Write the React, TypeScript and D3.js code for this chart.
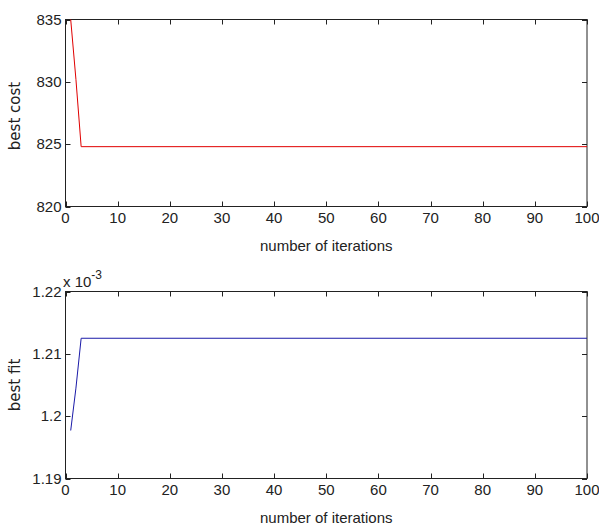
import React, { useEffect, useRef } from 'react';
import * as d3 from 'd3';

// iteration numbers where the curves change (flat after iteration 3)
const iterations = [1, 2, 3, 100];
const bestCost = [835, 830.2, 824.8, 824.8];
const bestFit = [1.1977e-3, 1.2045e-3, 1.2125e-3, 1.2125e-3];

const xTicks = [0, 10, 20, 30, 40, 50, 60, 70, 80, 90, 100];
const costTicks = [820, 825, 830, 835];
const fitTicks = [1.19e-3, 1.2e-3, 1.21e-3, 1.22e-3];
const fitTickLabels = ['1.19', '1.2', '1.21', '1.22'];

const App = () => {
  const ref = useRef<SVGSVGElement | null>(null);

  useEffect(() => {
    const svg = d3.select(ref.current);
    svg.selectAll('*').remove();

    const tickFont = '"Liberation Sans", Arial, sans-serif';
    const labelFont = '"DejaVu Sans", sans-serif';
    const left = 65.5, right = 587;

    const drawPanel = (top, bottom, ys, yDomain, yTicks, yLabels, color, yTitle, titleShift) => {
      const x = d3.scaleLinear().domain([0, 100]).range([left, right]);
      const y = d3.scaleLinear().domain(yDomain).range([bottom, top]);
      const g = svg.append('g');

      // box
      g.append('rect')
        .attr('x', left).attr('y', top)
        .attr('width', right - left).attr('height', bottom - top)
        .attr('fill', 'white').attr('stroke', '#222').attr('stroke-width', 1);

      // x ticks (inside, bottom and top)
      xTicks.forEach(t => {
        const px = Math.round(x(t)) + 0.5;
        g.append('line').attr('x1', px).attr('x2', px).attr('y1', bottom).attr('y2', bottom - 5).attr('stroke', '#222');
        g.append('line').attr('x1', px).attr('x2', px).attr('y1', top).attr('y2', top + 5).attr('stroke', '#222');
        g.append('text')
          .attr('x', x(t)).attr('y', bottom + 16)
          .attr('text-anchor', 'middle')
          .attr('font-family', tickFont).attr('font-size', 15).attr('fill', '#222')
          .text(t);
      });

      // y ticks (inside, left and right)
      yTicks.forEach((t, i) => {
        const py = Math.round(y(t)) + 0.5;
        g.append('line').attr('x1', left).attr('x2', left + 5).attr('y1', py).attr('y2', py).attr('stroke', '#222');
        g.append('line').attr('x1', right).attr('x2', right - 5).attr('y1', py).attr('y2', py).attr('stroke', '#222');
        g.append('text')
          .attr('x', left - 4).attr('y', y(t) + 5)
          .attr('text-anchor', 'end')
          .attr('font-family', tickFont).attr('font-size', 15).attr('fill', '#222')
          .text(yLabels[i]);
      });

      const line = d3.line<number>()
        .x((d, i) => x(iterations[i]))
        .y(d => y(d));

      g.append('path')
        .datum(ys)
        .attr('d', line)
        .attr('fill', 'none')
        .attr('stroke', color)
        .attr('stroke-width', 1);

      g.append('text')
        .attr('x', (left + right) / 2).attr('y', bottom + 44)
        .attr('text-anchor', 'middle')
        .attr('font-family', tickFont).attr('font-size', 15).attr('fill', '#222')
        .text('number of iterations');

      g.append('text')
        .attr('transform', `translate(20,${(top + bottom) / 2 + titleShift}) rotate(-90)`)
        .attr('text-anchor', 'middle')
        .attr('font-family', labelFont).attr('font-size', 15).attr('fill', '#222')
        .text(yTitle);
    };

    drawPanel(19.5, 206.5, bestCost, [820, 835], costTicks, costTicks.map(String), '#e00000', 'best cost', 3);
    drawPanel(291.5, 478.5, bestFit, [1.19e-3, 1.22e-3], fitTicks, fitTickLabels, '#1a1aa8', 'best fit', 0);

    // exponent label
    const exp = svg.append('text')
      .attr('x', 63).attr('y', 287)
      .attr('font-family', tickFont).attr('font-size', 15).attr('fill', '#222');
    exp.append('tspan').text('x 10');
    exp.append('tspan').attr('dy', -8).attr('font-size', 12).text('-3');
  }, []);

  return (
    <svg ref={ref} width={599} height={529}
      style={{ position: 'absolute', left: 0, top: 0, background: 'white' }} />
  );
};

export default App;
